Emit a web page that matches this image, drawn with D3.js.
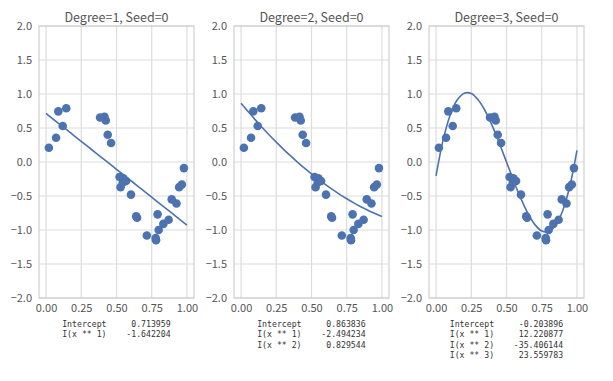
<!DOCTYPE html>
<html>
<head>
<meta charset="utf-8">
<script src="https://cdn.jsdelivr.net/npm/d3@7"></script>
<style>
  html, body { margin: 0; padding: 0; background: #fff; }
  svg { display: block; }
</style>
</head>
<body>
<svg id="chart" width="613" height="381"></svg>
<script>
// ---- data ----
const xs = [0.0202, 0.0710, 0.0871, 0.1183, 0.1434, 0.3834, 0.4147, 0.4237, 0.4376, 0.4615,
            0.5218, 0.5289, 0.5449, 0.5488, 0.5680, 0.6028, 0.6399, 0.6459, 0.7152, 0.7782,
            0.7805, 0.7917, 0.7992, 0.8326, 0.8700, 0.8918, 0.9256, 0.9447, 0.9637, 0.9786];
const ys = [0.21, 0.357, 0.745, 0.53, 0.79, 0.655, 0.666, 0.61, 0.40, 0.28,
            -0.22, -0.37, -0.30, -0.24, -0.28, -0.48, -0.80, -0.82, -1.08, -1.12,
            -1.15, -0.77, -1.00, -0.91, -0.85, -0.55, -0.61, -0.37, -0.33, -0.09];

const fitX = [0, 0.05, 0.1, 0.15, 0.2, 0.25, 0.3, 0.35, 0.4, 0.45, 0.5,
              0.55, 0.6, 0.65, 0.7, 0.75, 0.8, 0.85, 0.9, 0.95, 1.0];
const fit1 = [0.714, 0.632, 0.550, 0.468, 0.385, 0.303, 0.221, 0.139, 0.057, -0.025, -0.107,
              -0.189, -0.271, -0.353, -0.436, -0.518, -0.600, -0.682, -0.764, -0.846, -0.928];
const fit2 = [0.8638, 0.7412, 0.6227, 0.5083, 0.3981, 0.2921, 0.1902, 0.0925, -0.0012, -0.0906, -0.1759,
              -0.2571, -0.3341, -0.4070, -0.4757, -0.5402, -0.6007, -0.6569, -0.7091, -0.7570, -0.8009];
const fit3 = [-0.2039, 0.3221, 0.6877, 0.9121, 1.0125, 1.0066, 0.9119, 0.7463, 0.5273, 0.2727, 0.0000,
              -0.2730, -0.5286, -0.7493, -0.9173, -1.0149, -1.0245, -0.9284, -0.7089, -0.3485, 0.1707];

const titles = ["Degree=1, Seed=0", "Degree=2, Seed=0", "Degree=3, Seed=0"];
const coefNames = ["Intercept", "I(x ** 1)", "I(x ** 2)", "I(x ** 3)"];
const coef1 = ["0.713959", "-1.642204"];
const coef2 = ["0.863836", "-2.494234", "0.829544"];
const coef3 = ["-0.203896", "12.220877", "-35.406144", "23.559783"];

const xTicks = [0, 0.25, 0.5, 0.75, 1.0];
const yTicks = [-2.0, -1.5, -1.0, -0.5, 0.0, 0.5, 1.0, 1.5, 2.0];

const panels = [
  {title: titles[0], fit: fit1, coef: coef1},
  {title: titles[1], fit: fit2, coef: coef2},
  {title: titles[2], fit: fit3, coef: coef3}
];

// ---- layout ----
const svg = d3.select("#chart");
const blue = "#4c72b0";
const gridColor = "#dcdcdc";
const textColor = "#555";
const lefts = [39, 234, 429];
const pw = 155, plotTop = 26, plotBottom = 298;
const sansFont = "'Noto Sans CJK KR', 'Noto Sans', sans-serif";
const monoFont = "'DejaVu Sans Mono', 'Liberation Mono', monospace";
const monoSize = 8.2;
const charW = monoSize * 0.602;

panels.forEach((p, i) => {
  const x = d3.scaleLinear().domain([-0.05, 1.05]).range([lefts[i], lefts[i] + pw]);
  const y = d3.scaleLinear().domain([-2, 2]).range([plotBottom, plotTop]);
  const g = svg.append("g");

  // grid
  g.selectAll(".gx").data(xTicks).join("line")
    .attr("x1", d => x(d)).attr("x2", d => x(d))
    .attr("y1", plotTop).attr("y2", plotBottom)
    .attr("stroke", gridColor).attr("stroke-width", 1.2);
  g.selectAll(".gy").data(yTicks).join("line")
    .attr("x1", lefts[i]).attr("x2", lefts[i] + pw)
    .attr("y1", d => y(d)).attr("y2", d => y(d))
    .attr("stroke", gridColor).attr("stroke-width", 1.2);
  // frame
  g.append("rect").attr("x", lefts[i]).attr("y", plotTop)
    .attr("width", pw).attr("height", plotBottom - plotTop)
    .attr("fill", "none").attr("stroke", "#cfcfcf").attr("stroke-width", 1.2);

  // axes (labels only)
  const xAxis = d3.axisBottom(x).tickValues(xTicks).tickFormat(d3.format(".2f")).tickSize(0).tickPadding(6);
  const gx = g.append("g").attr("transform", `translate(0,${plotBottom})`).call(xAxis);
  gx.select(".domain").remove();
  gx.selectAll("text").attr("fill", textColor).style("font-family", sansFont).style("font-size", "11px");

  const yAxis = d3.axisLeft(y).tickValues(yTicks).tickFormat(d3.format(".1f")).tickSize(0).tickPadding(7);
  const gy = g.append("g").attr("transform", `translate(${lefts[i]},0)`).call(yAxis);
  gy.select(".domain").remove();
  gy.selectAll("text").attr("fill", textColor).style("font-family", sansFont).style("font-size", "11px");

  // points
  g.selectAll(".pt").data(xs).join("circle")
    .attr("cx", d => x(d)).attr("cy", (d, j) => y(ys[j]))
    .attr("r", 4.3).attr("fill", blue);

  // fitted line
  const line = d3.line().x(d => x(d[0])).y(d => y(d[1])).curve(d3.curveCatmullRom);
  g.append("path").datum(fitX.map((v, j) => [v, p.fit[j]]))
    .attr("d", line).attr("fill", "none").attr("stroke", blue).attr("stroke-width", 1.6);

  // title
  g.append("text").attr("x", lefts[i] + pw / 2).attr("y", 22)
    .attr("text-anchor", "middle").attr("fill", textColor)
    .style("font-family", sansFont).style("font-size", "12.5px").text(p.title);

  // coefficient table
  const valW = Math.max(...p.coef.map(c => c.length));
  const lines = p.coef.map((c, j) => coefNames[j].padEnd(13, " ") + c.padStart(valW, " "));
  const maxLen = Math.max(...lines.map(l => l.length));
  const blockW = maxLen * charW;
  const x0 = lefts[i] + pw / 2 - blockW / 2;
  lines.forEach((l, j) => {
    g.append("text").attr("x", x0).attr("y", 326.5 + j * 10.6)
      .attr("xml:space", "preserve").style("white-space", "pre")
      .attr("fill", "#333").style("font-family", monoFont).style("font-size", monoSize + "px")
      .text(l);
  });
});
</script>
</body>
</html>
